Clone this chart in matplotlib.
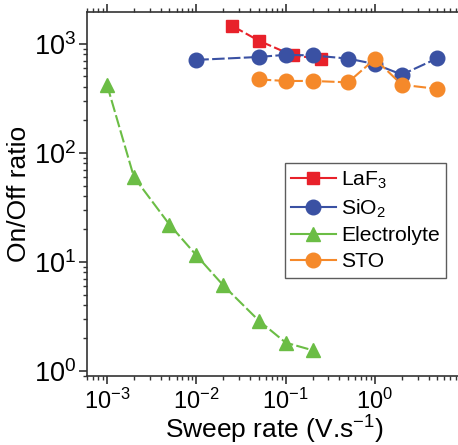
import matplotlib
matplotlib.use('Agg')
import matplotlib.pyplot as plt
from matplotlib.ticker import LogLocator, NullFormatter

plt.rcParams['font.family'] = ['Liberation Sans', 'DejaVu Sans']
plt.rcParams['mathtext.fontset'] = 'custom'
plt.rcParams['mathtext.rm'] = 'Liberation Sans'
plt.rcParams['mathtext.it'] = 'Liberation Sans:italic'
plt.rcParams['mathtext.bf'] = 'Liberation Sans:bold'
plt.rcParams['axes.unicode_minus'] = False

# data
laf3_x = [0.025, 0.05, 0.12, 0.25]
laf3_y = [1460, 1065, 780, 725]

sio2_x = [0.01, 0.05, 0.1, 0.2, 0.5, 1, 2, 5]
sio2_y = [710, 755, 790, 780, 730, 650, 520, 735]

elec_x = [0.001, 0.002, 0.005, 0.01, 0.02, 0.05, 0.1, 0.2]
elec_y = [420, 60, 22, 11.5, 6.1, 2.9, 1.82, 1.55]

sto_x = [0.05, 0.1, 0.2, 0.5, 1, 2, 5]
sto_y = [470, 455, 455, 442, 724, 420, 385]

red = '#E8212A'
blue = '#3A51A3'
green = '#6BBD45'
orange = '#F5892A'
dash = (0, (6, 1.6))

fig = plt.figure(figsize=(4.58, 4.45), dpi=100)
ax = fig.add_axes([87/458, 69/445, 375/458, 364/445])

ax.plot(laf3_x, laf3_y, color=red, marker='s', ms=9, lw=1.5, ls=dash, label='LaF$_3$')
ax.plot(sio2_x, sio2_y, color=blue, marker='o', ms=10.5, lw=1.5, ls=dash, label='SiO$_2$')
ax.plot(elec_x, elec_y, color=green, marker='^', ms=10.5, lw=1.5, ls=dash, label='Electrolyte')
ax.plot(sto_x, sto_y, color=orange, marker='o', ms=10.5, lw=1.5, ls=dash, label='STO')

ax.set_xscale('log')
ax.set_yscale('log')
ax.set_xlim(5.97e-4, 9.43)
ax.set_ylim(0.9, 1950)

ax.xaxis.set_major_locator(LogLocator(base=10, numticks=10))
ax.xaxis.set_minor_locator(LogLocator(base=10, subs=range(2, 10), numticks=20))
ax.xaxis.set_minor_formatter(NullFormatter())
ax.yaxis.set_minor_formatter(NullFormatter())

spine_c = '#333333'
for s in ax.spines.values():
    s.set_color(spine_c)
    s.set_linewidth(1.2)
ax.spines['right'].set_visible(False)

ax.tick_params(which='both', direction='out', top=True, right=False, colors=spine_c)
ax.tick_params(which='major', length=6, width=1.2)
ax.tick_params(which='minor', length=3, width=1)
ax.tick_params(axis='x', which='major', labelsize=17, labelcolor='black', pad=3)
ax.tick_params(axis='y', which='major', labelsize=19.5, labelcolor='black', pad=2)

ax.set_xlabel('Sweep rate (V.s$^{-1}$)', fontsize=19, labelpad=0)
ax.set_ylabel('On/Off ratio', fontsize=19, labelpad=2)

leg = ax.legend(loc='upper right', bbox_to_anchor=(446/458, 1 - 163/445),
                bbox_transform=fig.transFigure, fontsize=15.2, frameon=True,
                fancybox=False, edgecolor=spine_c, handlelength=2.1,
                labelspacing=0.32, borderpad=0.3, handletextpad=0.25,
                borderaxespad=0)
leg.get_frame().set_linewidth(1.0)
for h in leg.legend_handles:
    h.set_linestyle('-')

fig.savefig('out.png', dpi=100)
